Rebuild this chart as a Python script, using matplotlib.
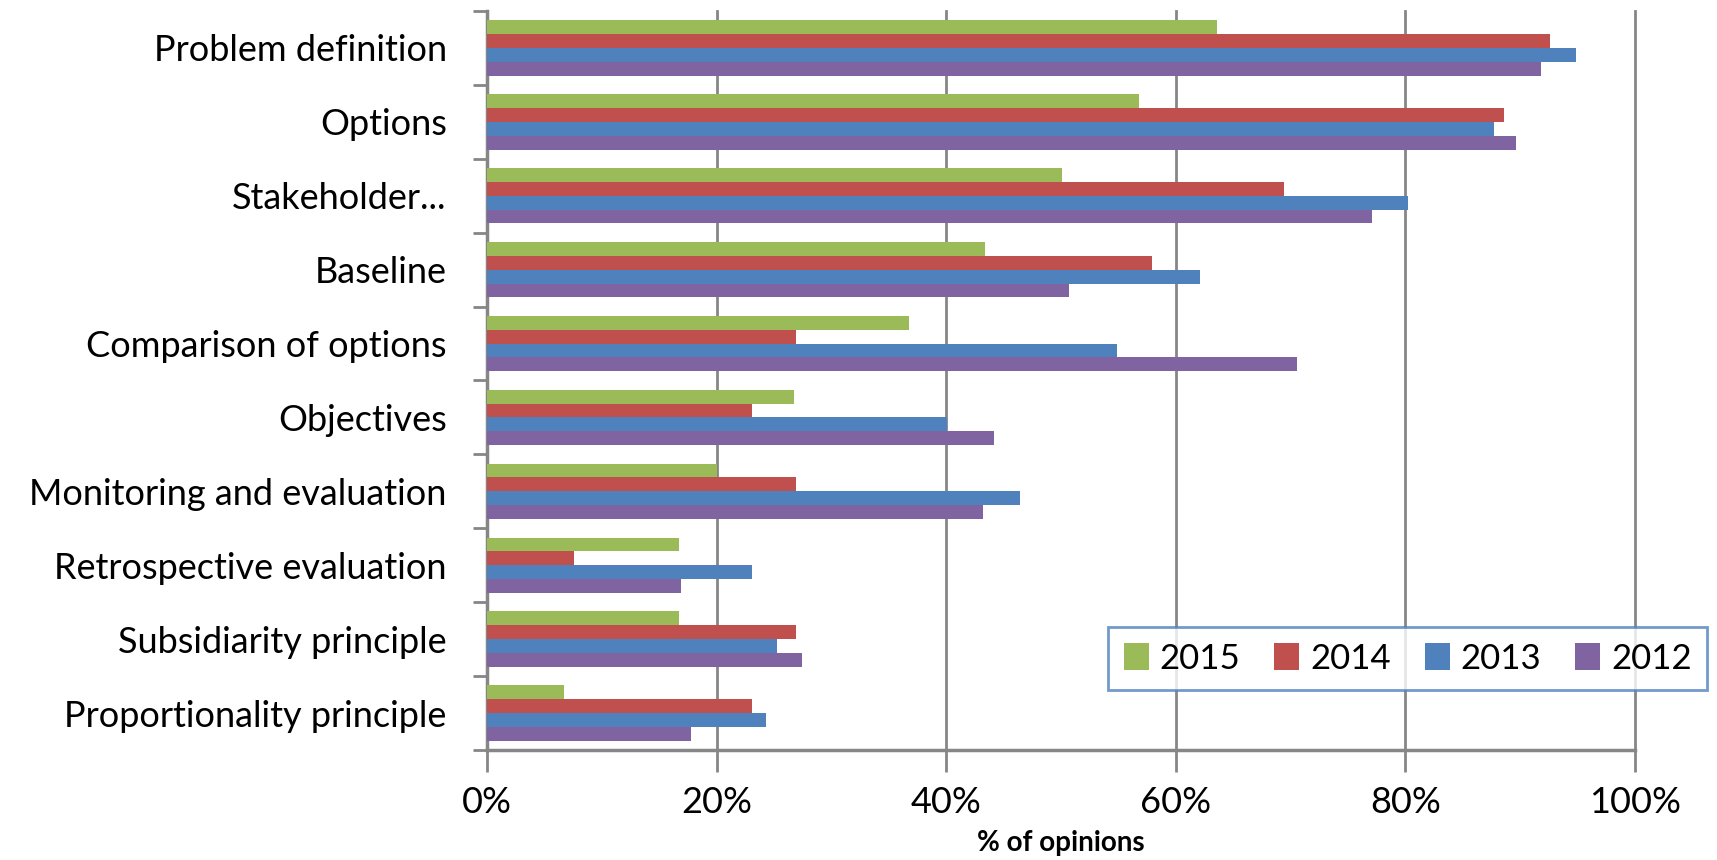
import numpy as np
import matplotlib.pyplot as plt
from matplotlib.ticker import FixedLocator, PercentFormatter

categories = ['Problem definition', 'Options', 'Stakeholder...', 'Baseline',
              'Comparison of options', 'Objectives', 'Monitoring and evaluation',
              'Retrospective evaluation', 'Subsidiarity principle',
              'Proportionality principle']
years = ['2015', '2014', '2013', '2012']
v2015 = [63.6, 56.8, 50.1, 43.4, 36.8, 26.7, 20.0, 16.7, 16.7, 6.7]
v2014 = [92.6, 88.6, 69.4, 57.9, 26.9, 23.1, 26.9, 7.6, 26.9, 23.1]
v2013 = [94.9, 87.7, 80.2, 62.1, 54.9, 40.1, 46.4, 23.1, 25.3, 24.3]
v2012 = [91.8, 89.6, 77.1, 50.7, 70.6, 44.2, 43.2, 16.9, 27.4, 17.8]
colors = ['#9BBB59', '#C0504D', '#4F81BD', '#8064A2']

plt.rcParams['font.family'] = ['Lato', 'DejaVu Sans']

fig = plt.figure(figsize=(17.17, 8.6), dpi=100)
ax = fig.add_axes([487/1717, 1 - 750/860, (1635-487)/1717, (750-11)/860])

y = np.arange(len(categories))
h = 0.75 / 4
for i, (vals, c, yr) in enumerate(zip([v2015, v2014, v2013, v2012], colors, years)):
    ax.barh(y + (i - 1.5) * h, vals, height=h, color=c, label=yr, zorder=3)

ax.set_xlim(0, 100)
ax.set_ylim(len(categories) - 0.5, -0.5)
ax.set_xticks([0, 20, 40, 60, 80, 100])
ax.xaxis.set_major_formatter(PercentFormatter(decimals=0))
ax.grid(axis='x', color='#868686', linewidth=2, zorder=0)
for gl in ax.get_xgridlines():
    gl.set_clip_on(False)
ax.set_yticks(y)
ax.set_yticklabels(categories)
ax.yaxis.set_minor_locator(FixedLocator(np.arange(len(categories) + 1) - 0.5))
ax.tick_params(axis='y', which='major', length=0, pad=29, labelsize=26)
ax.tick_params(axis='y', which='minor', length=10, width=2, color='#868686')
ax.tick_params(axis='x', which='major', length=16, width=2, color='#868686',
               labelsize=26, pad=10)
for s in ['top', 'right']:
    ax.spines[s].set_visible(False)
for s in ['left', 'bottom']:
    ax.spines[s].set_color('#868686')
    ax.spines[s].set_linewidth(2.5)
ax.set_xlabel('% of opinions', fontsize=20, fontweight='bold', labelpad=8)

leg = ax.legend(loc='upper left', bbox_to_anchor=((1108-487)/1148, 1 - (627-11)/739),
                ncol=4, frameon=True, fancybox=False, fontsize=25,
                handlelength=0.72, handleheight=0.8, handletextpad=0.32,
                columnspacing=0.97, borderpad=0.45, borderaxespad=0)
leg.get_frame().set_edgecolor('#4F81BD')
leg.get_frame().set_linewidth(2)
leg.set_zorder(5)

fig.savefig('out.png', dpi=100)
